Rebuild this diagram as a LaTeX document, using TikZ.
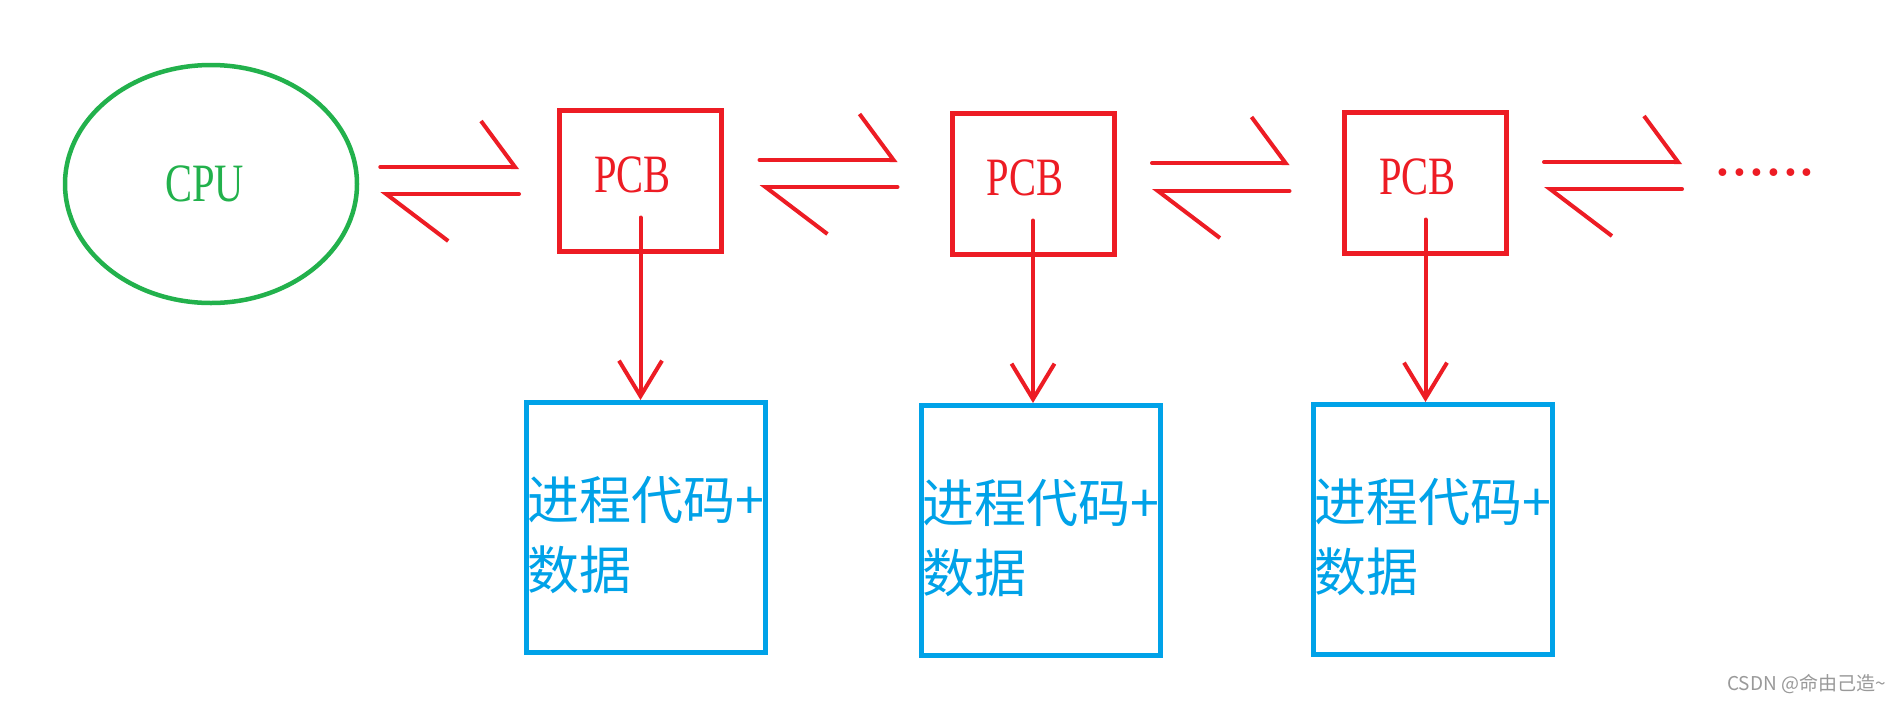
\documentclass[tikz,border=0pt]{standalone}
\usepackage{fontspec}
\usetikzlibrary{arrows.meta,shapes.geometric}
\newfontfamily\latinfont[FakeStretch=0.75]{Liberation Serif}
\newfontfamily\cjkfont{Noto Sans CJK SC}
\definecolor{paintgreen}{RGB}{34,177,76}
\definecolor{paintred}{RGB}{237,28,36}
\definecolor{paintblue}{RGB}{0,162,232}

\begin{document}
\begin{tikzpicture}[x=0.5pt,y=-0.5pt,
		core/.style={ellipse,draw=paintgreen,line width=2.25pt,minimum width=146pt,minimum height=119pt,inner sep=0pt,text=paintgreen,font=\latinfont\fontsize{27}{30}\selectfont,execute at begin node={\kern-6.5pt}},
		pcbbox/.style={rectangle,draw=paintred,line width=2.5pt,minimum width=81pt,minimum height=70.5pt,inner sep=0pt,text=paintred,font=\latinfont\fontsize{27}{30}\selectfont,text height=18pt,text depth=6pt,execute at begin node={\kern-8pt}},
		mem/.style={rectangle,draw=paintblue,line width=2.5pt,minimum width=119.5pt,minimum height=125pt,inner sep=0pt,text=paintblue,align=left,font=\cjkfont\fontsize{26}{35}\selectfont},
		link/.style={draw=paintred,line width=2pt,line cap=round},
		fwd/.style={link,-{Straight Barb[harpoon,length=17pt,width=46pt]}},
		bwd/.style={link,-{Straight Barb[harpoon,length=31pt,width=47pt]}},
		feed/.style={link,-{Straight Barb[length=17.75pt,width=21.5pt]}}]
	\path[use as bounding box,fill=white] (0,0) rectangle (1901,702);
	
	\node[core] (cpu) at (211,184) {CPU};
	\node[pcbbox] (pcb1) at (640.5,180.5) {PCB};
	\node[pcbbox] (pcb2) at (1033,183.5) {PCB};
	\node[pcbbox] (pcb3) at (1425.5,182.5) {PCB};
	\node[anchor=base west,inner sep=0pt,text=paintred,font=\bfseries\fontsize{27}{30}\selectfont] (more) at (1714,176) {......};
	
	\node[mem] (blk1) at (646,527.5) {\rule{0pt}{29pt}进程代码+\\数据};
	\node[mem] (blk2) at (1041,530.5) {\rule{0pt}{29pt}进程代码+\\数据};
	\node[mem] (blk3) at (1432.5,529.5) {\rule{0pt}{29pt}进程代码+\\数据};
	
	% two way links along the chain
	\foreach \a/\b/\l/\r/\u/\d in {cpu/pcb1/10.5pt/19pt/167/194, pcb1/pcb2/17.75pt/26pt/160/187, pcb2/pcb3/17.75pt/26.25pt/163/191, pcb3/more/17.5pt/16pt/162/189}{
		\draw[fwd,shorten <=\l,shorten >=\r] (\a.east |- 0,\u) -- (\b.west |- 0,\u);
		\draw[bwd,shorten <=\r,shorten >=\l] (\b.west |- 0,\d) -- (\a.east |- 0,\d);
	}
	
	\foreach \p/\b in {pcb1/blk1,pcb2/blk2,pcb3/blk3}{
		\coordinate (\p-tail) at ([yshift=18pt]\p.south);
		\draw[feed] (\p-tail) -- (\p-tail |- \b.north);
	}
	
	\node[anchor=east,inner sep=0pt,text=black!40,font=\cjkfont\fontsize{9.5}{10}\selectfont] (mark) at (1886,684) {CSDN @命由己造\textasciitilde};
\end{tikzpicture}
\end{document}
